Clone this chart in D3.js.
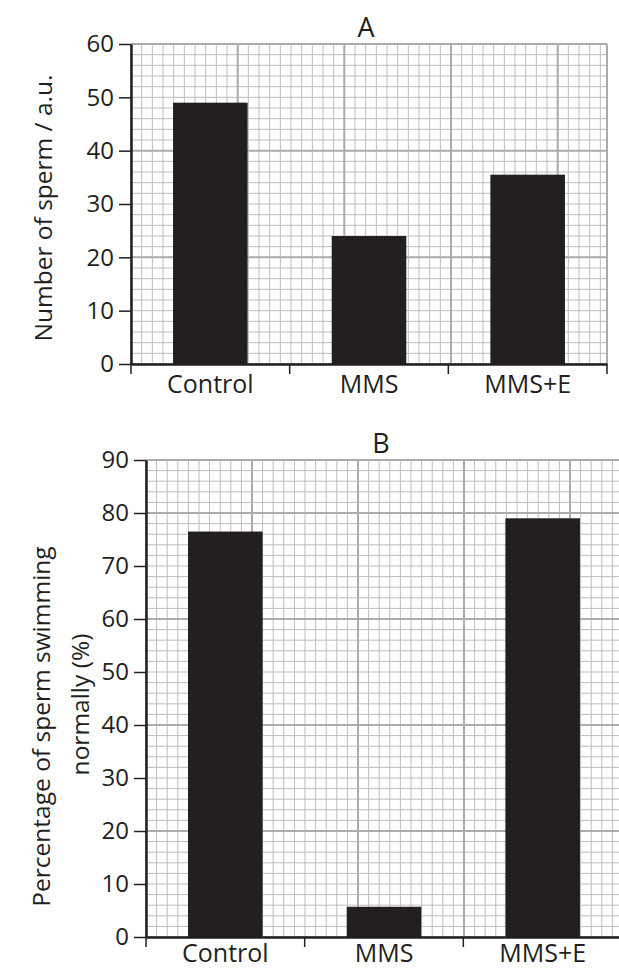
<!DOCTYPE html>
<html>
<head>
<meta charset="utf-8">
<script src="https://cdn.jsdelivr.net/npm/d3@7"></script>
<style>
  body { margin: 0; background: #fff; }
  text { font-family: "Open Sans", sans-serif; fill: #231f20; }
</style>
</head>
<body>
<div id="chart"></div>
<script>
// --- data ---
var categories = ["Control", "MMS", "MMS+E"];
var spermCount = [49, 24, 35.5];
var swimmingNormally = [76.5, 5.7, 79];
var countTicks = [0, 10, 20, 30, 40, 50, 60];
var swimmingTicks = [0, 10, 20, 30, 40, 50, 60, 70, 80, 90];

function translate(x, y) {
  return "translate(" + x + ", " + y + ")";
}

// --- one panel = graph paper + 3 black bars ---
function drawPanel(svg, opts) {
  var w = opts.right - opts.left,
    h = opts.bottom - opts.top;
  var g = svg.append("g").attr("transform", translate(opts.left, opts.top));

  var x = d3.scaleBand().domain(categories).range([0, w]).padding(0);
  var y = d3.scaleLinear().domain([0, d3.max(opts.ticks)]).range([h, 0]);

  // graph paper: one small square = 2 units
  var cell = y(0) - y(2);
  var rows = d3.range(0, d3.max(opts.ticks) + 0.01, 2);
  var cols = d3.range(0, w + 0.5, cell);

  var grid = g.append("g").attr("class", "grid");
  grid.selectAll(".hminor")
    .data(rows)
    .enter()
    .append("line")
    .attr("x1", 0)
    .attr("x2", w)
    .attr("y1", function (d) { return y(d); })
    .attr("y2", function (d) { return y(d); })
    .attr("stroke", "#bdbdbd")
    .attr("stroke-width", 1);
  grid.selectAll(".vminor")
    .data(cols)
    .enter()
    .append("line")
    .attr("x1", function (d) { return d; })
    .attr("x2", function (d) { return d; })
    .attr("y1", 0)
    .attr("y2", h)
    .attr("stroke", "#bdbdbd")
    .attr("stroke-width", 1);
  // every 10th line is heavier
  grid.selectAll(".hmajor")
    .data(rows.filter(function (d) { return d % 20 == 0; }))
    .enter()
    .append("line")
    .attr("x1", 0)
    .attr("x2", w)
    .attr("y1", function (d) { return y(d); })
    .attr("y2", function (d) { return y(d); })
    .attr("stroke", "#ababab")
    .attr("stroke-width", 2);
  grid.selectAll(".vmajor")
    .data(cols.filter(function (d, i) { return i % 10 == 0; }))
    .enter()
    .append("line")
    .attr("x1", function (d) { return d; })
    .attr("x2", function (d) { return d; })
    .attr("y1", 0)
    .attr("y2", h)
    .attr("stroke", "#ababab")
    .attr("stroke-width", 2);
  // frame top / right
  grid.append("line").attr("x1", 0).attr("x2", w).attr("y1", 0).attr("y2", 0)
    .attr("stroke", "#ababab").attr("stroke-width", 2);
  grid.append("line").attr("x1", w).attr("x2", w).attr("y1", 0).attr("y2", h)
    .attr("stroke", "#ababab").attr("stroke-width", 2);

  // bars
  var barFrac = 0.47;
  g.selectAll(".bar")
    .data(opts.values)
    .enter()
    .append("rect")
    .attr("class", "bar")
    .attr("x", function (d, i) {
      return x(categories[i]) + (x.bandwidth() * (1 - barFrac)) / 2;
    })
    .attr("width", x.bandwidth() * barFrac)
    .attr("y", function (d) { return y(d); })
    .attr("height", function (d) { return h - y(d); })
    .style("fill", "#231f20");

  // y axis
  var yAxis = g.append("g")
    .attr("class", "axis")
    .call(d3.axisLeft(y).tickValues(opts.ticks).tickSize(12).tickSizeOuter(0).tickPadding(5));
  yAxis.select(".domain").attr("stroke", "#231f20").attr("stroke-width", 2.5);
  yAxis.selectAll(".tick line").attr("stroke", "#231f20").attr("stroke-width", 1.5);
  yAxis.selectAll(".tick text").attr("font-size", "24px").style("font-family", "Open Sans");

  // x axis: labels centred, ticks on the band edges
  var xAxis = g.append("g")
    .attr("class", "axis")
    .attr("transform", translate(0, h))
    .call(d3.axisBottom(x).tickSize(0).tickPadding(opts.labelPad));
  xAxis.select(".domain").attr("stroke", "#231f20").attr("stroke-width", 2.5);
  xAxis.selectAll(".tick text").attr("font-size", "25px").style("font-family", "Open Sans");
  xAxis.selectAll(".edge")
    .data(categories.map(function (c) { return x(c); }).concat([w]))
    .enter()
    .append("line")
    .attr("x1", function (d) { return d; })
    .attr("x2", function (d) { return d; })
    .attr("y1", 0)
    .attr("y2", 10)
    .attr("stroke", "#231f20")
    .attr("stroke-width", 1.5);

  // panel letter
  g.append("text")
    .attr("x", w / 2 - 3)
    .attr("y", -7)
    .attr("text-anchor", "middle")
    .attr("font-size", "27px")
    .text(opts.title);

  // y label (one or two lines), shift = move along the axis
  var lab = g.append("text")
    .attr("transform", translate(opts.labelX - opts.left, h / 2) + " rotate(-90)")
    .attr("text-anchor", "middle")
    .attr("font-size", "24.5px");
  lab.selectAll("tspan")
    .data(opts.label)
    .enter()
    .append("tspan")
    .attr("x", function (d, i) { return -opts.labelShift[i]; })
    .attr("dy", function (d, i) { return i == 0 ? 0 : "1.6em"; })
    .text(function (d) { return d; });
}

var svg = d3.select("#chart")
  .append("svg")
  .attr("width", 619)
  .attr("height", 971);

drawPanel(svg, {
  left: 131, right: 607, top: 44, bottom: 364,
  values: spermCount,
  ticks: countTicks,
  title: "A",
  label: ["Number of sperm / a.u."],
  labelShift: [4],
  labelX: 52,
  labelPad: 11
});

drawPanel(svg, {
  left: 146, right: 622, top: 460, bottom: 937,
  values: swimmingNormally,
  ticks: swimmingTicks,
  title: "B",
  label: ["Percentage of sperm swimming", "normally (%)"],
  labelShift: [28, 6],
  labelX: 50,
  labelPad: 7
});
</script>
</body>
</html>
